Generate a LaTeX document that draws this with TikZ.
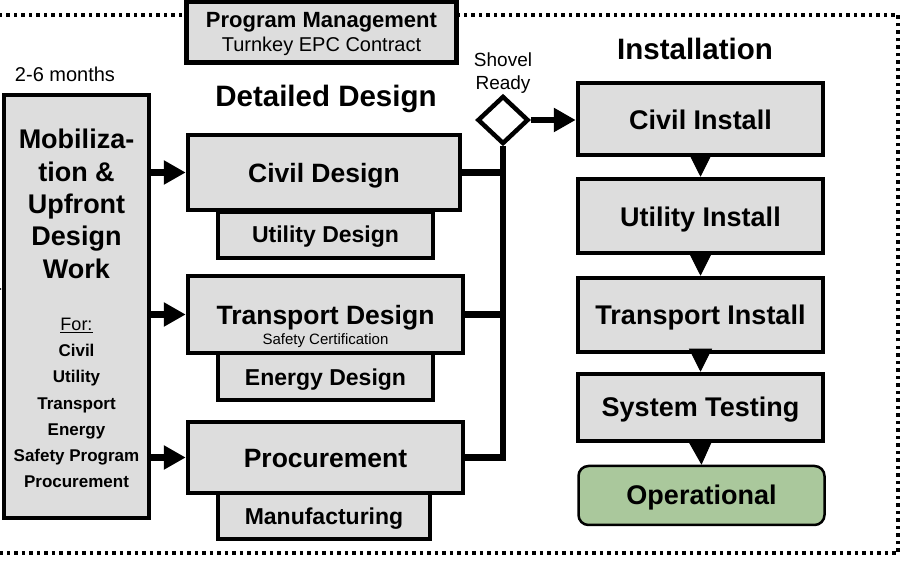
\documentclass[tikz,border=0pt]{standalone}
\usepackage{fontspec}
\setmainfont{Liberation Sans}
\usetikzlibrary{arrows.meta,shapes.geometric}
\definecolor{boxgray}{RGB}{221,221,221}
\definecolor{opgreen}{RGB}{170,200,156}
\newcommand{\setsz}[1]{\fontsize{#1}{#1}\selectfont}

\begin{document}
\begin{tikzpicture}[x=1pt,y=-1pt,
   box/.style={draw,line width=4.5pt,fill=boxgray,inner sep=0pt},
   lbl/.style={anchor=base,inner sep=0pt},
   flow/.style={line width=6.5pt,-{Triangle[length=22pt,width=23pt]}},
   bus/.style={line width=6.5pt},
   chain/.style={line width=1pt,-{Triangle[length=23pt,width=23pt]}},
   dotborder/.style={line width=3.5pt,dash pattern=on 3.5pt off 4pt}]
   \useasboundingbox (0,0) rectangle (906,561);

   % program frame
   \draw[dotborder] (-10,15) rectangle (898,553);
   \node[box,minimum width=270pt,minimum height=61pt] (prog) at (321.5,32) {};
   \node[lbl,font=\setsz{22}\bfseries] (progt) at (321.5,28) {Program Management};
   \node[lbl,font=\setsz{20}] (progs) at (321.5,52) {Turnkey EPC Contract};

   % mobilization
   \node[lbl,font=\setsz{20}] (months) at (65,82) {2-6 months};
   \node[box,minimum width=145pt,minimum height=423pt] (mob) at (76.5,306.5) {};
   \coordinate (feed) at (-12,289);
   \draw[line width=2pt,-{Triangle[length=8pt,width=9pt]}] (feed) -- (feed -| mob.west);
   \node[lbl,font=\setsz{27}\bfseries] (m1) at (76.5,149) {Mobiliza-};
   \node[lbl,font=\setsz{27}\bfseries] (m2) at (76.5,181.5) {tion \&};
   \node[lbl,font=\setsz{27}\bfseries] (m3) at (76.5,214) {Upfront};
   \node[lbl,font=\setsz{27}\bfseries] (m4) at (76.5,246) {Design};
   \node[lbl,font=\setsz{27}\bfseries] (m5) at (76.5,278.5) {Work};
   \node[lbl,font=\setsz{18}] (for) at (76.5,331) {\underline{For:}};
   \node[lbl,font=\setsz{17}\bfseries] (f1) at (76.5,357) {Civil};
   \node[lbl,font=\setsz{17}\bfseries] (f2) at (76.5,383) {Utility};
   \node[lbl,font=\setsz{17}\bfseries] (f3) at (76.5,410) {Transport};
   \node[lbl,font=\setsz{17}\bfseries] (f4) at (76.5,436) {Energy};
   \node[lbl,font=\setsz{17}\bfseries] (f5) at (76.5,462) {Safety Program};
   \node[lbl,font=\setsz{17}\bfseries] (f6) at (76.5,488) {Procurement};

   % detailed design
   \node[lbl,font=\setsz{29.5}\bfseries] (ddhead) at (326,107) {Detailed Design};
   \node[box,minimum width=272pt,minimum height=75pt] (civd) at (324,172.5) {};
   \node[lbl,font=\setsz{26.5}\bfseries] at (324,183) {Civil Design};
   \node[box,minimum width=215pt,minimum height=46pt] (utild) at (325.5,235) {};
   \node[lbl,font=\setsz{23}\bfseries] at (325.5,243) {Utility Design};
   \node[box,minimum width=275pt,minimum height=77pt] (trand) at (325.5,314.5) {};
   \node[lbl,font=\setsz{26.5}\bfseries] at (325.5,325) {Transport Design};
   \node[lbl,font=\setsz{15}] (safety) at (325.5,345) {Safety Certification};
   \node[box,minimum width=215pt,minimum height=47pt] (energd) at (325.5,376.5) {};
   \node[lbl,font=\setsz{23}\bfseries] at (325.5,386) {Energy Design};
   \node[box,minimum width=275pt,minimum height=71pt] (procd) at (325.5,457.5) {};
   \node[lbl,font=\setsz{26.5}\bfseries] at (325.5,468) {Procurement};
   \node[box,minimum width=212pt,minimum height=46pt] (manuf) at (324,516) {};
   \node[lbl,font=\setsz{23}\bfseries] at (324,525) {Manufacturing};

   \draw[flow] (mob.east |- civd.west) -- (civd.west);
   \draw[flow] (mob.east |- trand.west) -- (trand.west);
   \draw[flow] (mob.east |- procd.west) -- (procd.west);

   % shovel ready gate
   \node[diamond,draw,line width=4.5pt,fill=white,minimum width=51pt,minimum height=48pt,inner sep=0pt] (dia) at (503,120) {};
   \node[lbl,font=\setsz{19}] (shovel) at (503,67) {Shovel};
   \node[lbl,font=\setsz{19}] (ready) at (503,90) {Ready};
   \draw[bus] (civd.east) -- (civd.east -| dia.south);
   \draw[bus] (trand.east) -- (trand.east -| dia.south);
   \draw[bus,line join=miter] (procd.east) -| (dia.south);

   % installation
   \node[lbl,font=\setsz{29.5}\bfseries] (insthead) at (695,60) {Installation};
   \node[box,minimum width=245pt,minimum height=72pt] (civi) at (700.5,119) {};
   \node[lbl,font=\setsz{27}\bfseries] at (700.5,130) {Civil Install};
   \node[box,minimum width=245pt,minimum height=74pt] (utili) at (700.5,216) {};
   \node[lbl,font=\setsz{27}\bfseries] at (700.5,227) {Utility Install};
   \node[box,minimum width=245pt,minimum height=74pt] (trani) at (700.5,315) {};
   \node[lbl,font=\setsz{27}\bfseries] at (700.5,325) {Transport Install};
   \node[box,minimum width=245pt,minimum height=67pt] (syst) at (700.5,407.5) {};
   \node[lbl,font=\setsz{27}\bfseries] at (700.5,417) {System Testing};
   \node[draw,line width=2.5pt,fill=opgreen,rounded corners=10pt,minimum width=246pt,minimum height=59pt] (oper) at (701.5,495.5) {};
   \node[lbl,font=\setsz{27}\bfseries] at (701.5,505) {Operational};

   \draw[flow] (dia.east) -- (dia.east -| civi.west);
   \draw[chain] (civi.south) -- (utili.north);
   \draw[chain] (utili.south) -- (trani.north);
   \draw[chain] (trani.south) -- (syst.north);
   \draw[chain] (syst.south) -- (oper.north);
\end{tikzpicture}
\end{document}
